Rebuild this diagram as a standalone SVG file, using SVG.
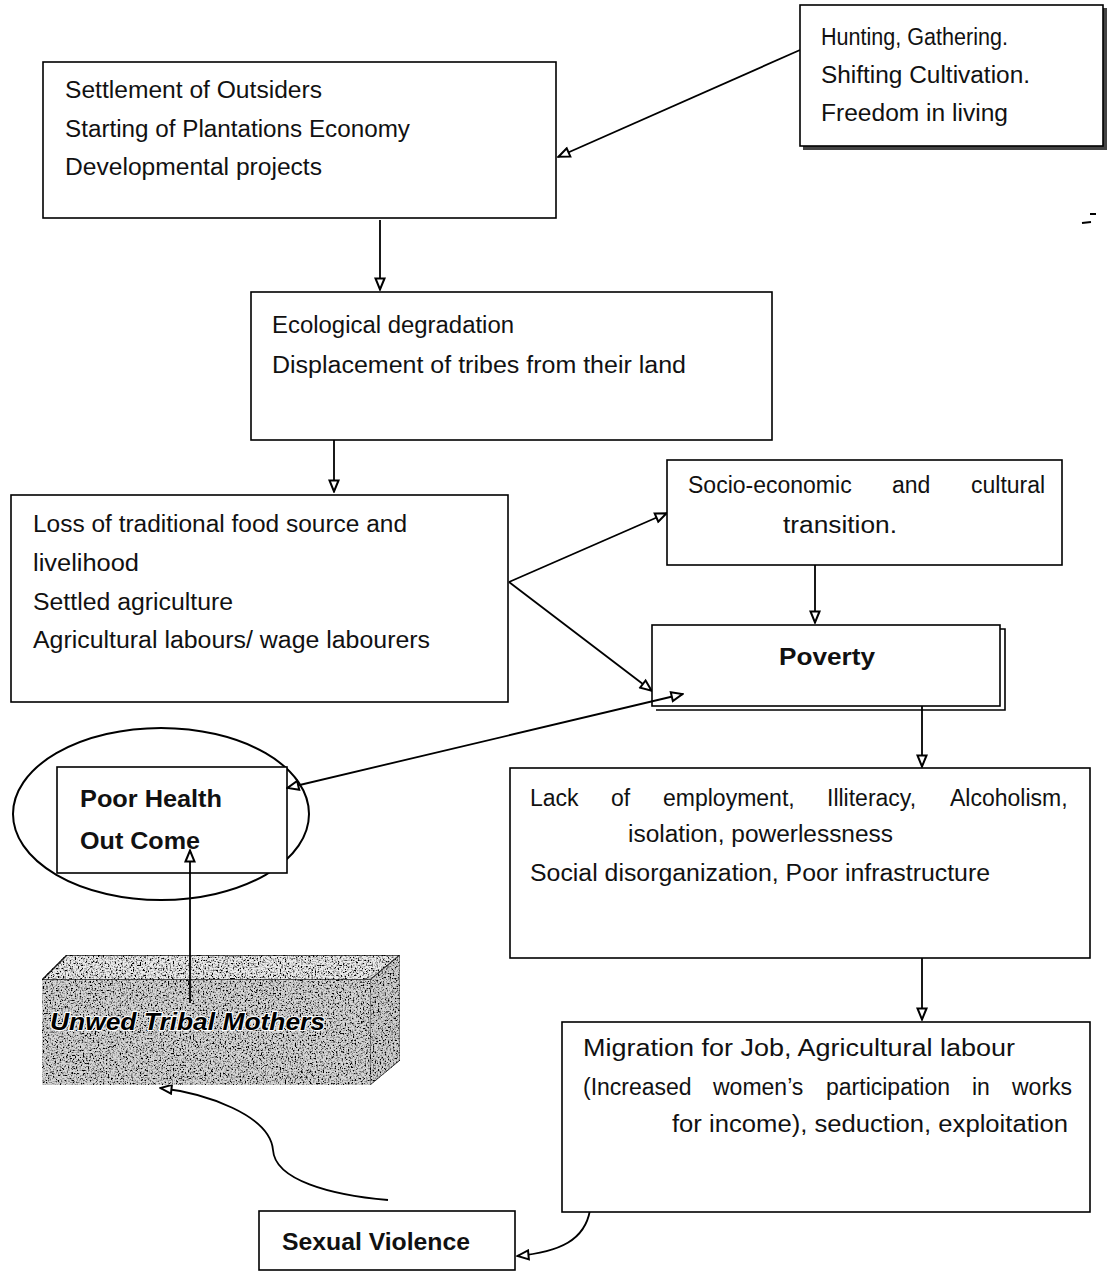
<svg xmlns="http://www.w3.org/2000/svg" width="1117" height="1272" viewBox="0 0 1117 1272">
<style>
.box{fill:#fff;stroke:#000;stroke-width:1.6}
.t{font-family:"Liberation Sans",Arial,sans-serif;font-size:23px;fill:#111}
.b{font-family:"Liberation Sans",Arial,sans-serif;font-size:23px;font-weight:bold;fill:#111}
.c{fill:none;stroke:#000;stroke-width:1.8}
</style>
<defs>
<marker id="tri" viewBox="0 0 14 12" refX="13" refY="6" markerWidth="14" markerHeight="12" orient="auto-start-reverse" markerUnits="userSpaceOnUse">
<path d="M1.5,1.5 L12.5,6 L1.5,10.5 Z" fill="#fff" stroke="#000" stroke-width="2"/>
</marker>
<filter id="grain" x="0" y="0" width="1" height="1">
<feTurbulence type="fractalNoise" baseFrequency="0.6" numOctaves="2" seed="4" result="n"/>
<feColorMatrix in="n" type="matrix" values="0 0 0 0 0  0 0 0 0 0  0 0 0 0 0  4 0 0 0 -1.8" result="dots"/>
<feComposite in="dots" in2="SourceGraphic" operator="in" result="d2"/>
<feMerge><feMergeNode in="SourceGraphic"/><feMergeNode in="d2"/></feMerge>
</filter>
</defs>
<rect width="1117" height="1272" fill="#fff"/>

<g id="connectors">
<path class="c" d="M800,50 L558,157" marker-end="url(#tri)"/>
<path class="c" d="M380,220 L380,290" marker-end="url(#tri)"/>
<path class="c" d="M334,405 L334,492" marker-end="url(#tri)"/>
<path class="c" d="M509,582 L667,513" marker-end="url(#tri)"/>
<path class="c" d="M509,582 L652,691" marker-end="url(#tri)"/>
<path class="c" d="M815,565 L815,623" marker-end="url(#tri)"/>
<path class="c" d="M922,706 L922,767" marker-end="url(#tri)"/>
<path class="c" d="M922,935 L922,1020" marker-end="url(#tri)"/>
<path class="c" d="M388,1200 C330,1195 275,1180 273,1150 C270,1115 205,1093 160,1088" marker-end="url(#tri)"/>
<path class="c" d="M670,1167 C630,1170 595,1185 590,1210 C585,1240 560,1252 517,1256" marker-end="url(#tri)"/>
</g>

<g id="settlement">
<rect class="box" x="43" y="62" width="513" height="156"/>
<text class="t" x="65" y="98" textLength="257" lengthAdjust="spacingAndGlyphs">Settlement of Outsiders</text>
<text class="t" x="65" y="137" textLength="345" lengthAdjust="spacingAndGlyphs">Starting of Plantations Economy</text>
<text class="t" x="65" y="175" textLength="257" lengthAdjust="spacingAndGlyphs">Developmental projects</text>
</g>

<g id="hunting">
<rect x="803" y="8" width="304" height="142" fill="#444"/>
<rect class="box" x="800" y="5" width="303" height="141"/>
<text class="t" x="821" y="45" textLength="187" lengthAdjust="spacingAndGlyphs">Hunting, Gathering.</text>
<text class="t" x="821" y="83" textLength="209" lengthAdjust="spacingAndGlyphs">Shifting Cultivation.</text>
<text class="t" x="821" y="121" textLength="187" lengthAdjust="spacingAndGlyphs">Freedom in living</text>
</g>

<g id="ecological">
<rect class="box" x="251" y="292" width="521" height="148"/>
<text class="t" x="272" y="333" textLength="242" lengthAdjust="spacingAndGlyphs">Ecological degradation</text>
<text class="t" x="272" y="373" textLength="414" lengthAdjust="spacingAndGlyphs">Displacement of tribes from their land</text>
</g>

<g id="loss">
<rect class="box" x="11" y="495" width="497" height="207"/>
<text class="t" x="33" y="532" textLength="374" lengthAdjust="spacingAndGlyphs">Loss of traditional food source and</text>
<text class="t" x="33" y="571" textLength="106" lengthAdjust="spacingAndGlyphs">livelihood</text>
<text class="t" x="33" y="610" textLength="200" lengthAdjust="spacingAndGlyphs">Settled agriculture</text>
<text class="t" x="33" y="648" textLength="397" lengthAdjust="spacingAndGlyphs">Agricultural labours/ wage labourers</text>
</g>

<g id="socio">
<rect class="box" x="667" y="460" width="395" height="105"/>
<text class="t" x="688" y="493">Socio-economic</text>
<text class="t" x="892" y="493">and</text>
<text class="t" x="971" y="493">cultural</text>
<text class="t" x="783" y="533" textLength="114" lengthAdjust="spacingAndGlyphs">transition.</text>
</g>

<g id="poverty">
<path d="M1000,629 L1005,629 L1005,710 L656,710" fill="none" stroke="#000" stroke-width="1.6"/>
<rect class="box" x="652" y="625" width="348" height="81"/>
<text class="b" x="779" y="665" textLength="96" lengthAdjust="spacingAndGlyphs">Poverty</text>
</g>

<g id="poorhealth">
<ellipse cx="161" cy="814" rx="148" ry="86" fill="none" stroke="#000" stroke-width="2"/>
<rect class="box" x="57" y="767" width="230" height="106"/>
<text class="b" x="80" y="807" textLength="142" lengthAdjust="spacingAndGlyphs">Poor Health</text>
<text class="b" x="80" y="849" textLength="120" lengthAdjust="spacingAndGlyphs">Out Come</text>
</g>

<g id="connectors-2">
<path class="c" d="M287,788 L683,694" marker-start="url(#tri)" marker-end="url(#tri)"/>
<path class="c" d="M190,1003 L190,850" marker-end="url(#tri)"/>
</g>

<g id="lack">
<rect class="box" x="510" y="768" width="580" height="190"/>
<text class="t" x="530" y="806">Lack</text>
<text class="t" x="611" y="806">of</text>
<text class="t" x="663" y="806">employment,</text>
<text class="t" x="827" y="806">Illiteracy,</text>
<text class="t" x="950" y="806">Alcoholism,</text>
<text class="t" x="628" y="842" textLength="265" lengthAdjust="spacingAndGlyphs">isolation, powerlessness</text>
<text class="t" x="530" y="881" textLength="460" lengthAdjust="spacingAndGlyphs">Social disorganization, Poor infrastructure</text>
</g>

<g id="migration">
<rect class="box" x="562" y="1022" width="528" height="190"/>
<text class="t" x="583" y="1056" textLength="432" lengthAdjust="spacingAndGlyphs">Migration for Job, Agricultural labour</text>
<text class="t" x="583" y="1095">(Increased</text>
<text class="t" x="713" y="1095">women’s</text>
<text class="t" x="826" y="1095">participation</text>
<text class="t" x="972" y="1095">in</text>
<text class="t" x="1012" y="1095">works</text>
<text class="t" x="672" y="1132" textLength="396" lengthAdjust="spacingAndGlyphs">for income), seduction, exploitation</text>
</g>

<g id="unwed">
<polygon points="42,980 67,955 400,955 370,980" fill="#ececec" stroke="#222" stroke-width="1.5" filter="url(#grain)"/>
<polygon points="370,980 400,955 400,1060 370,1085" fill="#d0d0d0" stroke="#444" stroke-width="1" filter="url(#grain)"/>
<rect x="42" y="980" width="328" height="105" fill="#d6d6d6" filter="url(#grain)"/>
<path class="c" d="M190,955 L190,1003"/>
<text x="50" y="1030" textLength="275" lengthAdjust="spacingAndGlyphs" style="font-family:'Liberation Sans',Arial,sans-serif;font-size:23px;font-weight:bold;font-style:italic;fill:#000;stroke:#fff;stroke-width:2;paint-order:stroke">Unwed Tribal Mothers</text>
</g>

<g id="sexual">
<rect class="box" x="259" y="1211" width="256" height="59"/>
<text class="b" x="282" y="1250" textLength="188" lengthAdjust="spacingAndGlyphs">Sexual Violence</text>
</g>

<g id="marks">
<path d="M1090,214 L1096,214 M1082,223 L1091,222" stroke="#000" stroke-width="2"/>
</g>
</svg>
